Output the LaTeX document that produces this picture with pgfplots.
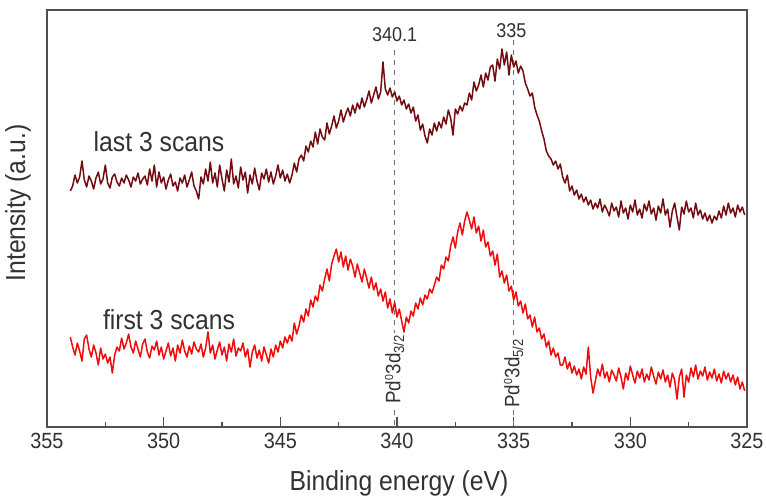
\documentclass[border=0pt]{standalone}
\usepackage{fontspec}
\setmainfont{Liberation Sans}[FakeStretch=0.9]
\usepackage{pgfplots}
\pgfplotsset{compat=1.18}
\definecolor{darkc}{RGB}{115,12,18}
\definecolor{redc}{RGB}{240,12,12}
\definecolor{axc}{RGB}{80,80,80}
\definecolor{txt}{RGB}{50,50,50}
\definecolor{dashc}{RGB}{110,110,110}
\begin{document}
\begin{tikzpicture}
\begin{axis}[name=ax,
  width=420pt, height=250.2pt, scale only axis,
  xmin=325, xmax=355, x dir=reverse, ymin=0, ymax=417,
  xtick={325,330,...,355}, minor x tick num=1, ytick=\empty,
  xtick pos=lower, tick align=inside,
  major tick length=6pt, minor tick length=3pt,
  axis line style={axc, line width=1.1pt},
  every tick/.style={axc, line width=0.8pt},
  tick label style={font=\fontsize{13.2}{15}\selectfont, text=txt},
  /pgf/number format/assume math mode=true,
  xlabel={Binding energy (eV)}, ylabel={Intensity (a.u.)},
  label style={font=\fontsize{16.5}{19}\selectfont, text=txt},
  xlabel style={at={(axis description cs:0.503,0)}, anchor=center, yshift=-33.6pt},
  ylabel style={at={(axis description cs:-0.0414,0.537)}, anchor=center},
]
\addplot[dashc, dashed, line width=0.6pt] coordinates {(340.1,377)(340.1,0)};
\addplot[dashc, dashed, line width=0.6pt] coordinates {(335,387)(335,0)};
% last 3 scans
\addplot[darkc, line width=0.9pt, line join=round] coordinates {
(354.0,236)(353.9,241)(353.8,252)(353.7,244)(353.6,250)(353.5,266)(353.4,247)(353.3,240)(353.2,251)(353.1,246)
(353.0,238)(352.9,249)(352.8,255)(352.7,243)(352.6,248)(352.5,262)(352.4,244)(352.3,239)(352.2,250)(352.1,253)
(352.0,245)(351.9,241)(351.8,249)(351.7,244)(351.6,252)(351.5,247)(351.4,240)(351.3,250)(351.2,246)(351.1,254)
(351.0,243)(350.9,248)(350.8,251)(350.7,242)(350.6,258)(350.5,246)(350.4,262)(350.3,240)(350.2,255)(350.1,244)
(350.0,250)(349.9,238)(349.8,247)(349.7,253)(349.6,241)(349.5,245)(349.4,236)(349.3,249)(349.2,244)(349.1,252)
(349.0,240)(348.9,247)(348.8,255)(348.7,241)(348.6,236)(348.5,228)(348.4,250)(348.3,243)(348.2,258)(348.1,246)
(348.0,265)(347.9,244)(347.8,254)(347.7,240)(347.6,262)(347.5,248)(347.4,236)(347.3,257)(347.2,245)(347.1,268)
(347.0,243)(346.9,251)(346.8,239)(346.7,260)(346.6,247)(346.5,255)(346.4,234)(346.3,252)(346.2,243)(346.1,259)
(346.0,246)(345.9,237)(345.8,254)(345.7,248)(345.6,258)(345.5,245)(345.4,255)(345.3,243)(345.2,251)(345.1,262)
(345.0,249)(344.9,257)(344.8,246)(344.7,253)(344.6,244)(344.5,252)(344.4,264)(344.3,255)(344.2,268)(344.1,272)
(344.0,266)(343.9,281)(343.8,275)(343.7,286)(343.6,280)(343.5,295)(343.4,283)(343.3,298)(343.2,290)(343.1,287)
(343.0,304)(342.9,293)(342.8,301)(342.7,311)(342.6,299)(342.5,306)(342.4,317)(342.3,305)(342.2,313)(342.1,319)
(342.0,311)(341.9,322)(341.8,314)(341.7,324)(341.6,318)(341.5,329)(341.4,320)(341.3,327)(341.2,336)(341.1,324)
(341.0,332)(340.9,340)(340.8,328)(340.7,335)(340.6,365)(340.5,338)(340.4,332)(340.3,339)(340.2,330)(340.1,335)
(340.0,326)(339.9,331)(339.8,322)(339.7,327)(339.6,318)(339.5,323)(339.4,314)(339.3,320)(339.2,306)(339.1,312)
(339.0,297)(338.9,303)(338.8,291)(338.7,284)(338.6,298)(338.5,292)(338.4,304)(338.3,296)(338.2,305)(338.1,299)
(338.0,310)(337.9,303)(337.8,317)(337.7,309)(337.6,292)(337.5,318)(337.4,313)(337.3,321)(337.2,316)(337.1,324)
(337.0,322)(336.9,334)(336.8,327)(336.7,345)(336.6,336)(336.5,342)(336.4,352)(336.3,340)(336.2,354)(336.1,347)
(336.0,360)(335.9,362)(335.8,346)(335.7,368)(335.6,358)(335.5,378)(335.4,362)(335.3,375)(335.2,352)(335.1,372)
(335.0,360)(334.9,366)(334.8,354)(334.7,361)(334.6,356)(334.5,344)(334.4,338)(334.3,331)(334.2,334)(334.1,320)
(334.0,312)(333.9,306)(333.8,296)(333.7,288)(333.6,276)(333.5,271)(333.4,268)(333.3,262)(333.2,266)(333.1,258)
(333.0,263)(332.9,250)(332.8,244)(332.7,252)(332.6,236)(332.5,241)(332.4,232)(332.3,237)(332.2,228)(332.1,233)
(332.0,225)(331.9,230)(331.8,222)(331.7,227)(331.6,218)(331.5,224)(331.4,219)(331.3,228)(331.2,215)(331.1,222)
(331.0,217)(330.9,211)(330.8,224)(330.7,216)(330.6,220)(330.5,210)(330.4,226)(330.3,214)(330.2,219)(330.1,208)
(330.0,222)(329.9,215)(329.8,227)(329.7,212)(329.6,218)(329.5,209)(329.4,223)(329.3,216)(329.2,226)(329.1,213)
(329.0,219)(328.9,207)(328.8,221)(328.7,214)(328.6,228)(328.5,212)(328.4,218)(328.3,200)(328.2,216)(328.1,224)
(328.0,210)(327.9,197)(327.8,220)(327.7,213)(327.6,226)(327.5,215)(327.4,219)(327.3,209)(327.2,224)(327.1,212)
(327.0,217)(326.9,208)(326.8,214)(326.7,206)(326.6,212)(326.5,204)(326.4,211)(326.3,207)(326.2,216)(326.1,209)
(326.0,221)(325.9,212)(325.8,224)(325.7,214)(325.6,219)(325.5,210)(325.4,222)(325.3,215)(325.2,220)(325.1,212)
};
% first 3 scans
\addplot[redc, line width=0.9pt, line join=round] coordinates {
(354.0,90)(353.9,80)(353.8,72)(353.7,84)(353.6,76)(353.5,66)(353.4,88)(353.3,92)(353.2,78)(353.1,70)
(353.0,82)(352.9,74)(352.8,62)(352.7,79)(352.6,68)(352.5,73)(352.4,64)(352.3,70)(352.2,54)(352.1,72)
(352.0,80)(351.9,76)(351.8,89)(351.7,78)(351.6,84)(351.5,93)(351.4,80)(351.3,74)(351.2,86)(351.1,78)
(351.0,70)(350.9,83)(350.8,88)(350.7,75)(350.6,69)(350.5,81)(350.4,77)(350.3,86)(350.2,72)(350.1,80)
(350.0,68)(349.9,76)(349.8,84)(349.7,71)(349.6,79)(349.5,66)(349.4,82)(349.3,74)(349.2,87)(349.1,76)
(349.0,70)(348.9,81)(348.8,73)(348.7,85)(348.6,78)(348.5,75)(348.4,83)(348.3,70)(348.2,79)(348.1,95)
(348.0,74)(347.9,82)(347.8,68)(347.7,77)(347.6,85)(347.5,72)(347.4,80)(347.3,66)(347.2,83)(347.1,75)
(347.0,88)(346.9,71)(346.8,79)(346.7,76)(346.6,84)(346.5,70)(346.4,78)(346.3,60)(346.2,75)(346.1,82)
(346.0,69)(345.9,77)(345.8,66)(345.7,80)(345.6,72)(345.5,64)(345.4,78)(345.3,70)(345.2,82)(345.1,75)
(345.0,86)(344.9,79)(344.8,90)(344.7,84)(344.6,92)(344.5,86)(344.4,104)(344.3,93)(344.2,101)(344.1,112)
(344.0,105)(343.9,118)(343.8,111)(343.7,127)(343.6,120)(343.5,131)(343.4,126)(343.3,142)(343.2,136)(343.1,148)
(343.0,158)(342.9,146)(342.8,163)(342.7,171)(342.6,178)(342.5,165)(342.4,175)(342.3,160)(342.2,171)(342.1,157)
(342.0,168)(341.9,161)(341.8,150)(341.7,163)(341.6,154)(341.5,145)(341.4,158)(341.3,149)(341.2,139)(341.1,150)
(341.0,137)(340.9,144)(340.8,131)(340.7,138)(340.6,126)(340.5,135)(340.4,119)(340.3,128)(340.2,114)(340.1,125)
(340.0,110)(339.9,118)(339.8,106)(339.7,95)(339.6,110)(339.5,104)(339.4,116)(339.3,111)(339.2,124)(339.1,118)
(339.0,129)(338.9,122)(338.8,132)(338.7,128)(338.6,138)(338.5,134)(338.4,142)(338.3,150)(338.2,146)(338.1,162)
(338.0,158)(337.9,170)(337.8,166)(337.7,181)(337.6,190)(337.5,179)(337.4,195)(337.3,204)(337.2,192)(337.1,206)
(337.0,215)(336.9,207)(336.8,198)(336.7,210)(336.6,194)(336.5,201)(336.4,186)(336.3,197)(336.2,180)(336.1,185)
(336.0,171)(335.9,176)(335.8,162)(335.7,173)(335.6,150)(335.5,156)(335.4,144)(335.3,152)(335.2,136)(335.1,141)
(335.0,127)(334.9,135)(334.8,121)(334.7,126)(334.6,114)(334.5,123)(334.4,108)(334.3,112)(334.2,100)(334.1,110)
(334.0,95)(333.9,99)(333.8,88)(333.7,93)(333.6,80)(333.5,86)(333.4,72)(333.3,79)(333.2,70)(333.1,74)
(333.0,62)(332.9,62)(332.8,70)(332.7,58)(332.6,65)(332.5,54)(332.4,61)(332.3,52)(332.2,58)(332.1,48)
(332.0,60)(331.9,53)(331.8,80)(331.7,50)(331.6,34)(331.5,46)(331.4,58)(331.3,51)(331.2,63)(331.1,49)
(331.0,55)(330.9,45)(330.8,57)(330.7,52)(330.6,46)(330.5,59)(330.4,50)(330.3,38)(330.2,54)(330.1,47)
(330.0,61)(329.9,52)(329.8,44)(329.7,56)(329.6,49)(329.5,58)(329.4,45)(329.3,53)(329.2,47)(329.1,60)
(329.0,51)(328.9,43)(328.8,55)(328.7,48)(328.6,57)(328.5,45)(328.4,52)(328.3,40)(328.2,54)(328.1,47)
(328.0,28)(327.9,50)(327.8,58)(327.7,30)(327.6,52)(327.5,45)(327.4,59)(327.3,50)(327.2,62)(327.1,48)
(327.0,56)(326.9,51)(326.8,60)(326.7,47)(326.6,55)(326.5,49)(326.4,58)(326.3,46)(326.2,53)(326.1,44)
(326.0,56)(325.9,48)(325.8,54)(325.7,45)(325.6,52)(325.5,42)(325.4,50)(325.3,38)(325.2,45)(325.1,36)
};
\node[text=txt, font=\fontsize{16.5}{19}\selectfont] at (axis cs:350.2,285) {last 3 scans};
\node[text=txt, font=\fontsize{16.5}{19}\selectfont] at (axis cs:349.77,107) {first 3 scans};
\node[text=txt, font=\fontsize{12}{14}\selectfont] at (axis cs:340.1,392) {340.1};
\node[text=txt, font=\fontsize{12}{14}\selectfont] at (axis cs:335.1,396) {335};
\node[text=txt, fill=white, inner sep=1pt, rotate=90, font=\fontsize{12.5}{14}\selectfont] at (axis cs:340.1,58) {Pd\textsuperscript{\scriptsize 0}3d\textsubscript{3/2}};
\node[text=txt, fill=white, inner sep=1pt, rotate=90, font=\fontsize{12.5}{14}\selectfont] at (axis cs:335,54) {Pd\textsuperscript{\scriptsize 0}3d\textsubscript{5/2}};
\end{axis}
\pgfresetboundingbox
\path[use as bounding box] ([shift={(-28.2pt,-42.6pt)}]ax.south west) rectangle ([shift={(11.4pt,6pt)}]ax.north east);
\end{tikzpicture}
\end{document}
